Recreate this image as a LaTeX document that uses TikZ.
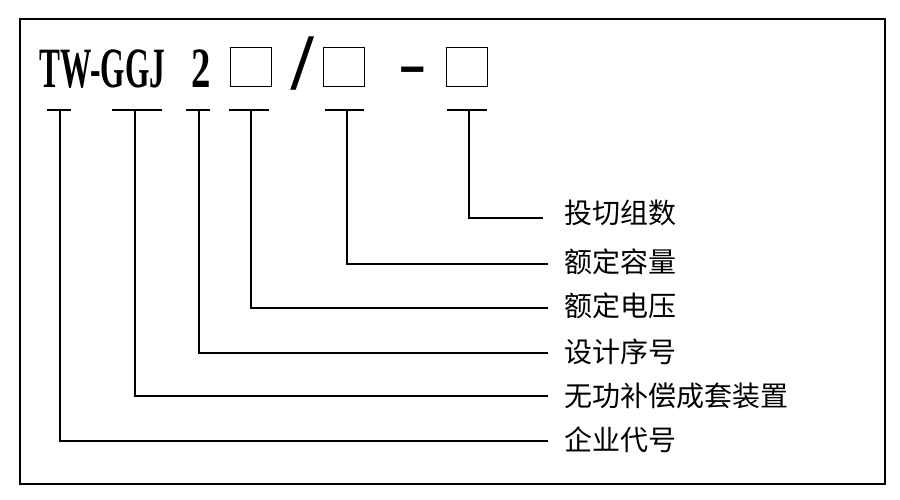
\documentclass[tikz,border=0pt]{standalone}
\usepackage{fontspec}
\setmainfont{Liberation Serif}
\newfontfamily\cjk{Noto Sans CJK SC}
\begin{document}
\begin{tikzpicture}[x=1pt,y=-1pt,
  lbl/.style={anchor=west,inner sep=0pt,font=\cjk\fontsize{28}{28}\selectfont},
  conn/.style={line width=1.8pt},
  bar/.style={line width=1.8pt},
  slot/.style={draw,line width=1.4pt,minimum width=41pt,minimum height=39pt,inner sep=0pt},
  code/.style={inner sep=0pt,anchor=base west,font=\bfseries\fontsize{57}{57}\selectfont}]
\useasboundingbox (0,0) rectangle (900,500);
\draw[line width=1.8pt] (20,19) rectangle (885,484);
% code text
\node[code] (tw) at (39,88) {\scalebox{0.55}[1]{TW-GGJ}};
\node[code] (two) at (191,88) {\scalebox{0.68}[1]{2}};
\node[slot] (b1) at (251,67) {};
\node[code,anchor=base,font=\bfseries\fontsize{80}{80}\selectfont] (sl) at (303,90) {/};
\node[slot] (b2) at (344,67) {};
\node[code,anchor=base] (da) at (413,85) {\scalebox{1.5}[1.1]{-}};
\node[slot] (b3) at (467,67) {};
% tick bars
\foreach \n/\a/\b/\v in {1/47/71/60, 2/112/162/135, 3/186/210/199, 4/229/269/251, 5/325/364/347, 6/447/487/469}{
  \coordinate (ta\n) at (\a,110);
  \coordinate (tb\n) at (\b,110);
  \coordinate (t\n) at (\v,110);
  \draw[bar] (ta\n) -- (tb\n);
}
% labels
\node[lbl] (L6) at (564,213) {投切组数};
\node[lbl] (L5) at (564,262) {额定容量};
\node[lbl] (L4) at (564,306) {额定电压};
\node[lbl] (L3) at (564,352) {设计序号};
\node[lbl] (L2) at (564,396) {无功补偿成套装置};
\node[lbl] (L1) at (564,440) {企业代号};
\coordinate (e6) at (543,218);
\coordinate (e5) at (548,264);
\coordinate (e4) at (548,308);
\coordinate (e3) at (548,353);
\coordinate (e2) at (548,396);
\coordinate (e1) at (548,441);
\foreach \n in {1,...,6}{
  \draw[conn] (t\n) |- (e\n);
}
\end{tikzpicture}
\end{document}
